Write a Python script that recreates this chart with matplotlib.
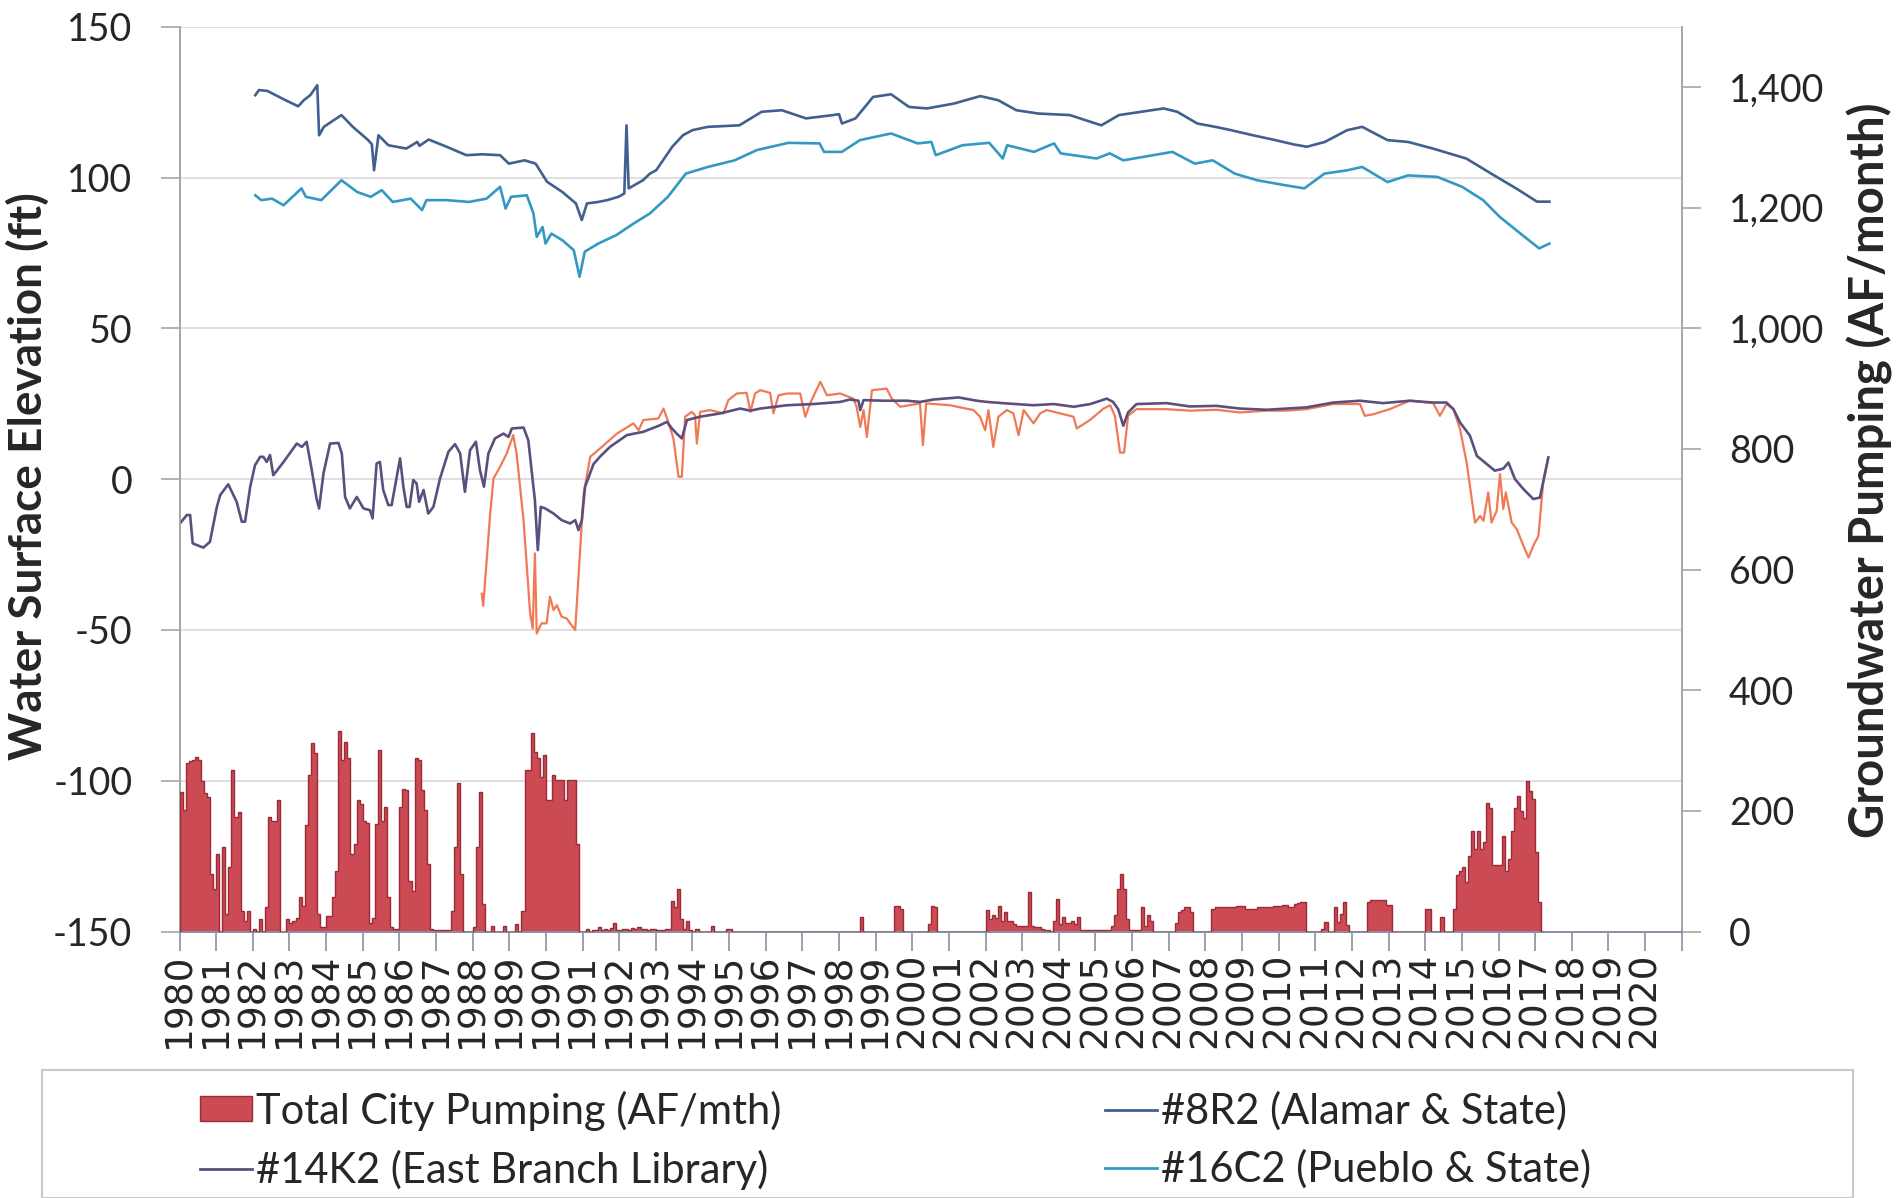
import matplotlib
matplotlib.use("Agg")
import matplotlib.pyplot as plt
from matplotlib.patches import Rectangle, Patch
from matplotlib.lines import Line2D

plt.rcParams['font.family'] = ['Lato', 'DejaVu Sans']
plt.rcParams['axes.unicode_minus'] = False

# ---------------- data ----------------
year_ticks = list(range(1980, 2022))
year_labels = [str(y) for y in range(1980, 2021)] + ['']
left_ticks = [-150, -100, -50, 0, 50, 100, 150]
right_ticks = [0, 200, 400, 600, 800, 1000, 1200, 1400]

# Total City Pumping (AF/month), monthly values, one row per year starting 1980
pump_first_year = 1980
pumping = [
    [232, 201, 279, 283, 285, 290, 285, 250, 229, 223, 96, 70],    # 1980
    [129, 0, 140, 29, 107, 268, 190, 198, 34, 18, 34, 0],          # 1981
    [4, 0, 21, 0, 40, 190, 184, 184, 218, 0, 0, 21],               # 1982
    [15, 18, 23, 57, 43, 176, 260, 312, 296, 29, 7, 7],            # 1983
    [26, 26, 57, 100, 332, 285, 315, 287, 129, 146, 218, 212],     # 1984
    [184, 180, 15, 23, 179, 301, 184, 207, 57, 7, 4, 4],           # 1985
    [207, 237, 234, 84, 68, 287, 285, 234, 201, 112, 4, 2],        # 1986
    [3, 3, 3, 3, 3, 34, 140, 246, 96, 0, 0, 0],                    # 1987
    [7, 140, 232, 46, 0, 0, 9, 0, 0, 0, 9, 0],                     # 1988
    [0, 0, 12, 0, 34, 268, 268, 329, 298, 287, 257, 293],          # 1989
    [218, 218, 260, 251, 251, 251, 218, 251, 251, 251, 146, 0],    # 1990
    [0, 4, 0, 2, 3, 7, 3, 4, 3, 6, 15, 3],                         # 1991
    [3, 4, 5, 3, 6, 4, 8, 4, 5, 3, 4, 5],                          # 1992
    [3, 3, 3, 4, 4, 51, 40, 71, 21, 5, 18, 3],                     # 1993
    [0, 5, 0, 0, 0, 0, 10, 0, 0, 0, 0, 4],                         # 1994
    [4, 0, 0, 0, 0, 0, 0, 0, 0, 0, 0, 0],                          # 1995
    [0, 0, 0, 0, 0, 0, 0, 0, 0, 0, 0, 0],                          # 1996
    [0, 0, 0, 0, 0, 0, 0, 0, 0, 0, 0, 0],                          # 1997
    [0, 0, 0, 0, 0, 0, 0, 24, 0, 0, 0, 0],                         # 1998
    [0, 0, 0, 0, 0, 0, 43, 43, 38, 0, 0, 0],                       # 1999
    [0, 0, 0, 0, 0, 13, 43, 40, 0, 0, 0, 0],                       # 2000
    [0, 0, 0, 0, 0, 0, 0, 0, 0, 0, 0, 0],                          # 2001
    [35, 21, 27, 22, 43, 18, 32, 18, 18, 13, 10, 10],              # 2002
    [10, 10, 65, 10, 7, 7, 5, 3, 2, 0, 18, 54],                    # 2003
    [13, 24, 15, 15, 18, 13, 24, 2, 2, 2, 2, 2],                   # 2004
    [2, 2, 2, 2, 2, 10, 27, 71, 96, 71, 21, 2],                    # 2005
    [2, 2, 2, 40, 10, 27, 18, 0, 0, 0, 0, 0],                      # 2006
    [0, 0, 15, 32, 35, 40, 40, 32, 0, 0, 0, 0],                    # 2007
    [0, 0, 38, 40, 40, 40, 40, 40, 40, 40, 42, 42],                # 2008
    [42, 38, 38, 38, 38, 40, 40, 40, 40, 40, 42, 42],              # 2009
    [42, 44, 44, 41, 41, 46, 47, 49, 49, 0, 0, 0],                 # 2010
    [0, 0, 4, 16, 0, 0, 41, 16, 30, 49, 11, 0],                    # 2011
    [0, 0, 0, 0, 0, 49, 52, 52, 52, 52, 52, 44],                   # 2012
    [44, 0, 0, 0, 0, 0, 0, 0, 0, 0, 0, 0],                         # 2013
    [38, 38, 0, 0, 0, 25, 0, 0, 0, 38, 93, 101],                   # 2014
    [107, 82, 126, 167, 137, 167, 137, 148, 214, 205, 110, 110],   # 2015
    [110, 159, 100, 121, 167, 205, 225, 200, 189, 249, 233, 219],  # 2016
    [132, 49, 0],                                                  # 2017
]

# #8R2 (Alamar & State) water surface elevation (ft)
r8_year = [1982.07, 1982.17, 1982.4, 1982.9, 1983.24, 1983.39, 1983.57, 1983.76, 1983.81,
           1983.94, 1984.42, 1984.73, 1985.15, 1985.25, 1985.31, 1985.43, 1985.7, 1986.19,
           1986.49, 1986.55, 1986.8, 1987.29, 1987.83, 1988.26, 1988.75, 1988.99, 1989.42,
           1989.72, 1990.03, 1990.45, 1990.82, 1990.98, 1991.12, 1991.43, 1991.67, 1991.98,
           1992.14, 1992.2, 1992.26, 1992.65, 1992.84, 1993.01, 1993.45, 1993.74, 1994.0,
           1994.42, 1995.28, 1995.89, 1996.44, 1997.1, 1997.84, 1998.0, 1998.08, 1998.45,
           1998.93, 1999.42, 1999.91, 2000.4, 2001.13, 2001.86, 2002.35, 2002.84, 2003.45,
           2004.3, 2005.16, 2005.64, 2006.25, 2006.86, 2007.23, 2007.78, 2008.27, 2008.7,
           2009.3, 2009.91, 2010.4, 2010.77, 2011.26, 2011.87, 2012.28, 2012.97, 2013.53,
           2014.21, 2015.12, 2015.8, 2016.48, 2017.05, 2017.39]
r8_val = [127.3, 129.0, 128.7, 125.6, 123.6, 125.6, 127.3, 130.6, 114.0,
          116.8, 120.7, 116.8, 112.4, 111.0, 102.4, 114.0, 110.7, 109.6,
          111.8, 110.5, 112.6, 110.2, 107.4, 107.7, 107.4, 104.6, 105.7,
          104.6, 98.6, 95.2, 91.4, 85.9, 91.4, 91.9, 92.5, 93.6,
          94.7, 117.3, 96.4, 99.1, 101.3, 102.4, 110.2, 114.0, 115.7,
          116.8, 117.3, 121.8, 122.3, 119.6, 120.7, 121.0, 117.9, 119.6,
          126.7, 127.6, 123.4, 122.9, 124.5, 127.0, 125.6, 122.3, 121.2,
          120.7, 117.3, 120.7, 121.8, 122.9, 121.8, 117.9, 116.8, 115.7,
          114.0, 112.4, 111.0, 110.2, 111.8, 115.7, 116.8, 112.4, 111.8,
          109.6, 106.3, 101.3, 96.4, 92.0, 92.0]

# #16C2 (Pueblo & State)
c16_year = [1982.07, 1982.23, 1982.53, 1982.84, 1983.33, 1983.45, 1983.87, 1984.42, 1984.85,
            1985.22, 1985.52, 1985.82, 1986.31, 1986.62, 1986.74, 1987.29, 1987.9, 1988.38,
            1988.75, 1988.9, 1989.05, 1989.48, 1989.66, 1989.75, 1989.91, 1989.99, 1990.15,
            1990.45, 1990.76, 1990.92, 1991.06, 1991.43, 1991.92, 1992.4, 1992.84, 1993.33,
            1993.82, 1994.42, 1995.15, 1995.76, 1996.62, 1997.47, 1997.59, 1998.08, 1998.57,
            1999.42, 2000.15, 2000.52, 2000.64, 2001.37, 2002.1, 2002.47, 2002.59, 2003.32,
            2003.87, 2004.05, 2005.03, 2005.39, 2005.76, 2007.1, 2007.71, 2008.2, 2008.8,
            2009.41, 2010.15, 2010.7, 2011.25, 2011.87, 2012.28, 2012.97, 2013.53, 2014.33,
            2015.01, 2015.58, 2016.03, 2016.6, 2017.11, 2017.39]
c16_val = [94.1, 92.5, 93.0, 90.8, 96.4, 93.6, 92.5, 99.1, 95.2,
           93.6, 95.8, 91.9, 93.0, 89.2, 92.5, 92.5, 91.9, 93.0,
           96.9, 89.7, 93.6, 94.1, 88.1, 80.3, 83.6, 78.1, 81.4,
           79.2, 75.9, 67.1, 75.4, 78.1, 80.9, 84.8, 88.1, 93.6,
           101.3, 103.5, 105.7, 109.1, 111.5, 111.3, 108.5, 108.5, 112.4,
           114.6, 111.3, 111.8, 107.4, 110.7, 111.5, 106.3, 110.7, 108.5,
           111.3, 108.0, 106.3, 108.0, 105.7, 108.5, 104.6, 105.7, 101.3,
           99.1, 97.5, 96.4, 101.3, 102.4, 103.5, 98.5, 100.7, 100.2,
           96.9, 92.5, 87.0, 81.4, 76.5, 78.1]

# #14K2 (East Branch Library)
k14_year = [1980.01, 1980.2, 1980.29, 1980.36, 1980.65, 1980.83, 1981.02, 1981.11, 1981.33,
            1981.56, 1981.7, 1981.79, 1981.93, 1982.06, 1982.2, 1982.29, 1982.38, 1982.47,
            1982.56, 1982.84, 1983.2, 1983.34, 1983.47, 1983.61, 1983.74, 1983.81, 1983.93,
            1984.11, 1984.34, 1984.43, 1984.52, 1984.65, 1984.84, 1985.02, 1985.2, 1985.27,
            1985.38, 1985.47, 1985.56, 1985.7, 1985.79, 1986.02, 1986.11, 1986.2, 1986.28,
            1986.38, 1986.47, 1986.54, 1986.66, 1986.79, 1986.93, 1987.11, 1987.34, 1987.52,
            1987.66, 1987.79, 1987.93, 1988.09, 1988.2, 1988.31, 1988.43, 1988.61, 1988.84,
            1988.98, 1989.07, 1989.39, 1989.52, 1989.7, 1989.78, 1989.86, 1989.98, 1990.21,
            1990.43, 1990.66, 1990.8, 1990.89, 1990.98, 1991.07, 1991.3, 1991.48, 1991.75,
            1992.21, 1992.66, 1993.12, 1993.3, 1993.44, 1993.57, 1993.71, 1993.85, 1994.21,
            1994.76, 1995.3, 1995.58, 1995.85, 1996.58, 1997.3, 1998.03, 1998.3, 1998.53,
            1998.58, 1998.67, 1999.21, 1999.85, 2000.21, 2000.58, 2001.26, 2001.76, 2002.04,
            2002.58, 2003.31, 2003.86, 2004.4, 2004.86, 2005.31, 2005.48, 2005.62, 2005.76,
            2005.89, 2006.12, 2006.94, 2007.58, 2008.3, 2008.94, 2009.67, 2010.22, 2010.76,
            2011.49, 2012.22, 2012.85, 2013.58, 2014.22, 2014.58, 2014.77, 2014.95, 2015.22,
            2015.41, 2015.68, 2015.9, 2016.13, 2016.27, 2016.45, 2016.68, 2016.95, 2017.13,
            2017.36]
k14_val = [-14.7, -11.9, -11.9, -21.3, -22.7, -20.8, -9.2, -5.3, -1.7,
           -7.5, -14.1, -14.1, -2.5, 4.6, 7.4, 7.4, 5.7, 8.0,
           1.3, 5.7, 11.8, 10.7, 12.4, 3.0, -6.4, -9.7, 1.9,
           11.8, 12.0, 8.5, -5.9, -9.7, -5.9, -9.7, -10.3, -13.0,
           5.2, 5.7, -3.6, -8.6, -8.6, 6.9, -2.5, -9.2, -9.2,
           -0.3, -1.4, -7.5, -3.6, -11.4, -9.2, 0.2, 9.1, 11.6,
           8.5, -4.2, 9.6, 12.4, 3.0, -2.5, 8.5, 13.5, 15.1,
           14.0, 16.8, 17.1, 12.9, -7.0, -23.5, -9.2, -9.7, -11.4,
           -13.6, -14.7, -13.6, -16.9, -13.6, -2.5, 5.0, 7.5, 10.7,
           14.6, 15.7, 17.9, 19.0, 16.8, 15.1, 13.5, 19.6, 20.7,
           21.8, 23.4, 22.7, 23.4, 24.5, 24.9, 25.6, 26.4, 26.0,
           22.9, 26.2, 26.0, 26.0, 25.6, 26.4, 27.1, 26.0, 25.6,
           25.1, 24.5, 24.9, 24.0, 24.9, 26.7, 25.6, 23.2, 17.7,
           22.1, 24.9, 25.2, 24.1, 24.3, 23.4, 23.0, 23.4, 23.8,
           25.4, 26.0, 25.2, 26.0, 25.4, 25.4, 23.2, 18.8, 14.4,
           7.7, 5.0, 2.8, 3.5, 5.5, 0.0, -3.3, -6.6, -6.1,
           7.2]

# unlabeled orange well series
orange_year = [1988.25, 1988.29, 1988.48, 1988.57, 1988.75, 1988.93, 1989.11, 1989.2, 1989.39,
               1989.57, 1989.64, 1989.7, 1989.75, 1989.88, 1990.02, 1990.11, 1990.21, 1990.3,
               1990.43, 1990.57, 1990.66, 1990.8, 1990.89, 1991.03, 1991.21, 1991.48, 1991.94,
               1992.39, 1992.53, 1992.66, 1993.07, 1993.21, 1993.34, 1993.48, 1993.62, 1993.71,
               1993.8, 1993.98, 1994.07, 1994.12, 1994.21, 1994.48, 1994.85, 1994.98, 1995.21,
               1995.48, 1995.58, 1995.71, 1995.85, 1996.12, 1996.21, 1996.35, 1996.58, 1996.94,
               1997.08, 1997.21, 1997.49, 1997.67, 1998.03, 1998.39, 1998.48, 1998.58, 1998.67,
               1998.76, 1998.9, 1999.3, 1999.44, 1999.67, 2000.21, 2000.29, 2000.38, 2001.03,
               2001.67, 2001.85, 2001.99, 2002.08, 2002.21, 2002.35, 2002.58, 2002.76, 2002.9,
               2003.04, 2003.31, 2003.49, 2003.67, 2004.03, 2004.4, 2004.49, 2004.85, 2005.22,
               2005.4, 2005.53, 2005.67, 2005.78, 2005.89, 2006.12, 2006.94, 2007.58, 2008.3,
               2008.94, 2009.67, 2010.22, 2010.76, 2011.49, 2012.22, 2012.35, 2012.58, 2013.03,
               2013.58, 2014.22, 2014.4, 2014.58, 2014.77, 2014.95, 2015.13, 2015.27, 2015.36,
               2015.5, 2015.59, 2015.72, 2015.81, 2015.95, 2016.04, 2016.13, 2016.2, 2016.36,
               2016.5, 2016.68, 2016.82, 2016.95, 2017.09, 2017.22, 2017.36]
orange_val = [-38.0, -42.0, -11.4, 0.2, 4.1, 8.5, 14.6, 8.5, -13.6,
              -44.5, -49.5, -24.6, -51.2, -47.8, -47.8, -39.0, -43.4, -41.8,
              -45.6, -46.2, -47.8, -50.0, -32.4, -4.8, 7.4, 10.2, 15.1,
              18.5, 16.2, 19.6, 20.1, 23.4, 19.0, 13.5, 0.8, 0.8,
              20.7, 22.3, 21.2, 11.8, 22.3, 22.9, 21.8, 26.2, 28.4,
              28.6, 22.3, 28.4, 29.5, 28.6, 21.8, 27.8, 28.4, 28.4,
              20.7, 25.1, 32.3, 27.8, 28.4, 26.7, 24.0, 17.3, 22.9,
              14.0, 29.5, 30.0, 26.7, 24.0, 25.1, 11.3, 25.1, 24.5,
              22.9, 20.7, 16.2, 22.9, 10.7, 20.7, 22.9, 21.8, 14.6,
              22.9, 18.5, 21.8, 22.9, 21.8, 20.7, 16.8, 19.6, 23.4,
              24.5, 21.0, 8.8, 8.8, 21.0, 23.2, 23.2, 22.7, 23.0,
              22.1, 22.7, 22.7, 23.2, 24.9, 24.9, 21.0, 21.5, 23.2,
              26.0, 25.2, 21.0, 24.9, 23.2, 16.6, 5.5, -6.6, -14.4,
              -12.2, -13.8, -4.4, -14.4, -10.5, 1.7, -9.9, -4.4, -14.4,
              -16.6, -22.1, -26.0, -22.1, -18.8, -1.1, 7.2]

# ---------------- styles ----------------
c_bar = '#CB4A53'
c_bar_edge = '#9C2B38'
c_r8 = '#41608F'
c_c16 = '#3399C4'
c_k14 = '#5C4F7E'
c_orange = '#F07A55'
c_text = '#262626'
c_spine = '#A6A6A6'

W_PX, H_PX = 1902, 1198
fig = plt.figure(figsize=(W_PX / 100, H_PX / 100), dpi=100)
fig.patch.set_facecolor('white')

x0, x1 = 179.5, 1681.7
y_top, y_bot = 26.7, 931.6
ax = fig.add_axes([x0 / W_PX, 1 - y_bot / H_PX, (x1 - x0) / W_PX, (y_bot - y_top) / H_PX])
ax2 = ax.twinx()

ax.set_xlim(1980, 2021)
ax.set_ylim(-150, 150)
ax2.set_ylim(0, 1500)

# bars (monthly): solid fill plus darker outline of the month steps
bar_x, bar_h = [], []
for i, row in enumerate(pumping):
    for m, v in enumerate(row):
        bar_x.append(pump_first_year + i + m / 12.0)
        bar_h.append(v)
ax2.bar(bar_x, bar_h, width=1 / 12.0, align='edge', color=c_bar,
        edgecolor=c_bar, linewidth=0.6, zorder=2)
bar_edges = bar_x + [bar_x[-1] + 1 / 12.0]
ax2.stairs(bar_h, bar_edges, baseline=0, color=c_bar_edge, lw=1.0, zorder=3)

# lines
ax.plot(r8_year, r8_val, color=c_r8, lw=1.9, zorder=3)
ax.plot(c16_year, c16_val, color=c_c16, lw=1.9, zorder=3)
ax.plot(orange_year, orange_val, color=c_orange, lw=1.6, zorder=3)
ax.plot(k14_year, k14_val, color=c_k14, lw=1.9, zorder=4)

# grid
ax.set_yticks(left_ticks)
ax.yaxis.grid(True, color='#D9D9D9', lw=1.2)
ax.set_axisbelow(True)

# spines
for a in (ax, ax2):
    a.spines['top'].set_visible(False)
    a.spines['left'].set_color(c_spine)
    a.spines['right'].set_color(c_spine)
    a.spines['bottom'].set_color('#8A8FA3')
    a.spines['left'].set_linewidth(1.2)
    a.spines['right'].set_linewidth(1.2)
    a.spines['bottom'].set_linewidth(1.4)

ax.tick_params(axis='y', length=14, width=1.2, color=c_spine, pad=20,
               labelsize=27, labelcolor=c_text)
ax2.set_yticks(right_ticks)
ax2.set_yticklabels([f'{v:,}' for v in right_ticks])
ax2.tick_params(axis='y', length=14, width=1.2, color=c_spine, pad=20,
                labelsize=27, labelcolor=c_text)

ax.set_xticks(year_ticks)
ax.set_xticklabels(year_labels, rotation=90, fontfamily='DejaVu Sans',
                   fontsize=27, color=c_text)
ax.tick_params(axis='x', length=14, width=1.2, color='#8A8FA3', pad=1)

# axis titles
fig.text(28 / W_PX, 1 - 476 / H_PX, 'Water Surface Elevation (ft)', rotation=90,
         ha='center', va='center', fontsize=33, fontweight='bold', color=c_text)
fig.text(1870 / W_PX, 1 - 470 / H_PX, 'Groundwater Pumping (AF/month)', rotation=90,
         ha='center', va='center', fontsize=34, fontweight='bold', color=c_text)

# legend
fig.patches.append(Rectangle((42 / W_PX, 0.0), (1853 - 42) / W_PX, (1198 - 1070) / H_PX,
                             transform=fig.transFigure, fill=False,
                             edgecolor='#C8C8C8', lw=1.5))
handles = [Patch(facecolor=c_bar, edgecolor=c_bar_edge),
           Line2D([], [], color=c_k14, lw=2),
           Line2D([], [], color=c_r8, lw=2),
           Line2D([], [], color=c_c16, lw=2)]
labels = ['Total City Pumping (AF/mth)', '#14K2 (East Branch Library)',
          '#8R2 (Alamar & State)', '#16C2 (Pueblo & State)']
fig.legend(handles, labels, loc='center left', bbox_to_anchor=(200 / W_PX, 1 - 1140 / H_PX),
           ncol=2, frameon=False, fontsize=30, borderpad=0, borderaxespad=0,
           handlelength=1.25, handleheight=0.55, handletextpad=0.1,
           columnspacing=7.75, labelspacing=0.45, labelcolor=c_text)

fig.savefig('out.png', dpi=100, facecolor='white')
